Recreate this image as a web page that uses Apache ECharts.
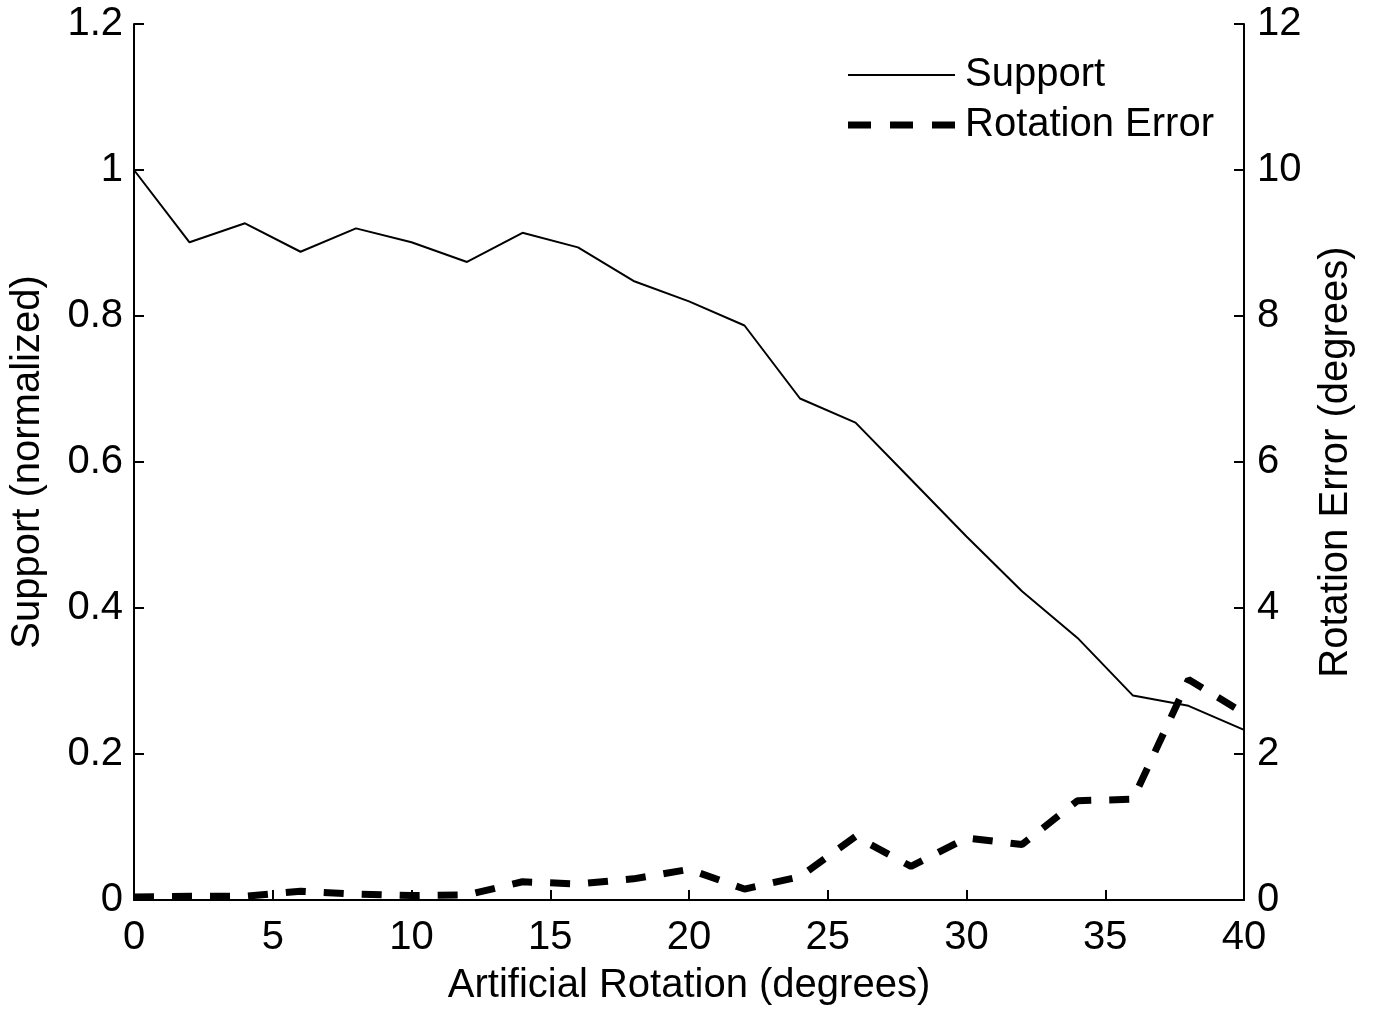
<!DOCTYPE html>
<html>
<head>
<meta charset="utf-8">
<script src="https://cdn.jsdelivr.net/npm/echarts@6/dist/echarts.min.js"></script>
<style>
  html, body { margin: 0; padding: 0; background: #fff; }
  #chart { width: 1375px; height: 1011px; }
</style>
</head>
<body>
<div id="chart"></div>
<script>
// artificial rotation in degrees (x)
const rotationDeg = [0, 2, 4, 6, 8, 10, 12, 14, 16, 18, 20, 22, 24, 26, 28, 30, 32, 34, 36, 38, 40];
// normalized support (left axis)
const support = [1.0, 0.901, 0.927, 0.888, 0.920, 0.901, 0.874, 0.914, 0.894, 0.848, 0.820,
  0.787, 0.687, 0.654, 0.576, 0.498, 0.423, 0.359, 0.280, 0.266, 0.233];
// rotation error in degrees (right axis)
const rotationError = [0.04, 0.05, 0.05, 0.12, 0.08, 0.06, 0.07, 0.25, 0.22, 0.29, 0.42,
  0.15, 0.32, 0.87, 0.46, 0.85, 0.76, 1.36, 1.38, 3.02, 2.56];

const font = 'Liberation Sans, Arial, Helvetica, sans-serif';
const fs = 40;

const chart = echarts.init(document.getElementById('chart'));

const axisCommon = {
  axisLine: { show: true, lineStyle: { color: '#000', width: 2 } },
  axisTick: { show: true, inside: true, length: 10, lineStyle: { color: '#000', width: 2 } },
  axisLabel: { color: '#000', fontSize: fs, fontFamily: font },
  splitLine: { show: false },
  nameTextStyle: { color: '#000', fontSize: fs, fontFamily: font }
};

const legendText = { color: '#000', fontSize: fs, fontFamily: font, padding: [0, 0, 0, 5] };

const option = {
  animation: false,
  backgroundColor: '#fff',
  grid: { left: 133, right: 131, top: 24, bottom: 110 },
  legend: [
    {
      left: 848,
      top: 55,
      padding: 0,
      itemWidth: 107,
      itemHeight: 2,
      textStyle: legendText,
      data: [{ name: 'Support', icon: 'path://M0,0 H107 V2 H0 Z' }]
    },
    {
      left: 848,
      top: 105,
      padding: 0,
      itemWidth: 107,
      itemHeight: 7,
      textStyle: legendText,
      data: [{
        name: 'Rotation Error',
        icon: 'path://M0,0 H23 V7 H0 Z M42,0 H65 V7 H42 Z M84,0 H107 V7 H84 Z'
      }]
    }
  ],
  xAxis: {
    type: 'value',
    min: 0,
    max: 40,
    interval: 5,
    name: 'Artificial Rotation (degrees)',
    nameLocation: 'middle',
    nameGap: 66,
    ...axisCommon,
    axisLabel: { ...axisCommon.axisLabel, margin: 18 }
  },
  yAxis: [
    {
      type: 'value',
      position: 'left',
      min: 0,
      max: 1.2,
      interval: 0.2,
      name: 'Support (normalized)',
      nameLocation: 'middle',
      nameGap: 86,
      ...axisCommon,
      axisLabel: { ...axisCommon.axisLabel, margin: 11 }
    },
    {
      type: 'value',
      position: 'right',
      min: 0,
      max: 12,
      interval: 2,
      name: 'Rotation Error (degrees)',
      nameLocation: 'middle',
      nameGap: 72,
      ...axisCommon,
      axisLabel: { ...axisCommon.axisLabel, margin: 13 }
    }
  ],
  series: [
    {
      name: 'Support',
      type: 'line',
      yAxisIndex: 0,
      symbol: 'none',
      lineStyle: { color: '#000', width: 2 },
      itemStyle: { color: '#000' },
      data: rotationDeg.map((x, i) => [x, support[i]])
    },
    {
      name: 'Rotation Error',
      type: 'line',
      yAxisIndex: 1,
      symbol: 'none',
      lineStyle: { color: '#000', width: 7, type: [20, 18] },
      itemStyle: { color: '#000' },
      data: rotationDeg.map((x, i) => [x, rotationError[i]])
    }
  ]
};

chart.setOption(option);
</script>
</body>
</html>
